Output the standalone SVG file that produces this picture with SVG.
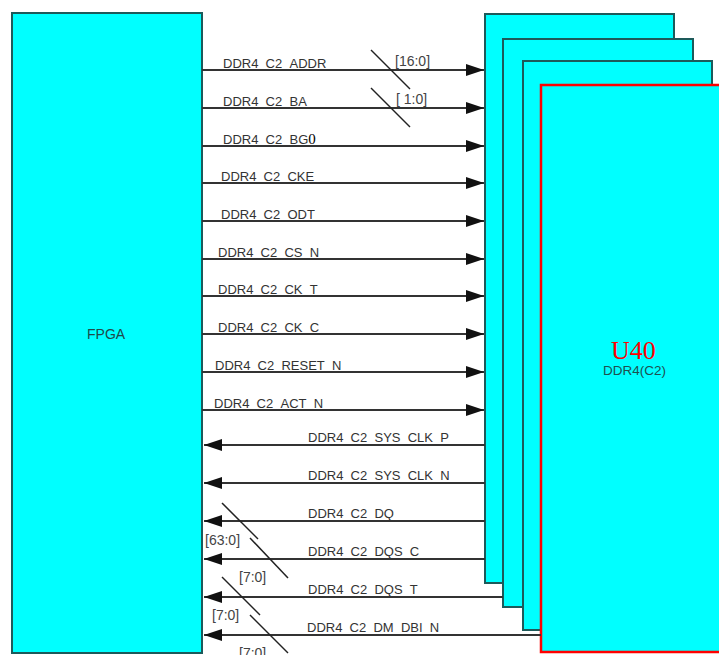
<svg xmlns="http://www.w3.org/2000/svg" width="719" height="655" viewBox="0 0 719 655">
<style>
.box{fill:#00ffff;stroke:#1d5a5a;stroke-width:2}
.red{fill:#00ffff;stroke:#ff0000;stroke-width:2.5}
.sig{stroke:#333;stroke-width:2;fill:none}
.sl{stroke:#222;stroke-width:1.5;fill:none}
.lbl{font-family:"Liberation Sans",Arial,sans-serif;font-size:13px;fill:#333}
.bus{font-family:"Liberation Sans",Arial,sans-serif;font-size:14px;fill:#444}
</style>
<defs>
<marker id="ah" markerUnits="userSpaceOnUse" markerWidth="19" markerHeight="13" refX="18" refY="6" orient="auto">
<path d="M0,0 L18,6 L0,12 z" fill="#111"/>
</marker>
</defs>
<rect width="719" height="655" fill="#fff"/>
<g id="FPGA">
<rect class="box" x="12" y="13" width="190" height="640"/>
<text x="87" y="339" style="font-family:'Liberation Sans',Arial,sans-serif;font-size:14px;fill:#1f4a4a">FPGA</text>
</g>
<g id="U40">
<rect class="box" x="485" y="14" width="189" height="569"/>
<rect class="box" x="503" y="39" width="190" height="568"/>
<rect class="box" x="523" y="61" width="189" height="569"/>
<rect class="red" x="541" y="85" width="200" height="567"/>
<text x="611" y="359" style="font-family:'Liberation Serif','Times New Roman',serif;font-size:26px;fill:#ff0000">U40</text>
<text x="603" y="375" style="font-family:'Liberation Sans',Arial,sans-serif;font-size:13.5px;fill:#1f5050">DDR4(C2)</text>
</g>
<g id="connectors">
<line class="sig" x1="202" y1="70" x2="484" y2="70" marker-end="url(#ah)"/>
<line class="sig" x1="202" y1="108" x2="484" y2="108" marker-end="url(#ah)"/>
<line class="sig" x1="202" y1="146" x2="484" y2="146" marker-end="url(#ah)"/>
<line class="sig" x1="202" y1="183" x2="484" y2="183" marker-end="url(#ah)"/>
<line class="sig" x1="202" y1="221" x2="484" y2="221" marker-end="url(#ah)"/>
<line class="sig" x1="202" y1="259" x2="484" y2="259" marker-end="url(#ah)"/>
<line class="sig" x1="202" y1="296" x2="484" y2="296" marker-end="url(#ah)"/>
<line class="sig" x1="202" y1="334" x2="484" y2="334" marker-end="url(#ah)"/>
<line class="sig" x1="202" y1="372" x2="484" y2="372" marker-end="url(#ah)"/>
<line class="sig" x1="202" y1="410" x2="484" y2="410" marker-end="url(#ah)"/>
<line class="sig" x1="485" y1="445" x2="204" y2="445" marker-end="url(#ah)"/>
<line class="sig" x1="485" y1="483" x2="204" y2="483" marker-end="url(#ah)"/>
<line class="sig" x1="485" y1="521" x2="204" y2="521" marker-end="url(#ah)"/>
<line class="sig" x1="485" y1="559" x2="204" y2="559" marker-end="url(#ah)"/>
<line class="sig" x1="503" y1="597" x2="204" y2="597" marker-end="url(#ah)"/>
<line class="sig" x1="541" y1="635" x2="204" y2="635" marker-end="url(#ah)"/>
<line class="sl" x1="371" y1="50" x2="410" y2="89"/>
<line class="sl" x1="371" y1="88" x2="410" y2="127"/>
<line class="sl" x1="222" y1="503" x2="258" y2="539"/>
<line class="sl" x1="250" y1="538" x2="288" y2="578"/>
<line class="sl" x1="222" y1="577" x2="260" y2="615"/>
<line class="sl" x1="250" y1="615" x2="288" y2="653"/>
</g>
<g id="labels">
<text class="lbl" x="223" y="68">DDR4_C2_ADDR</text>
<text class="lbl" x="223" y="106">DDR4_C2_BA</text>
<text class="lbl" x="223" y="144">DDR4_C2_BG<tspan style="font-family:'Liberation Serif','Times New Roman',serif;font-size:15px;fill:#000">0</tspan></text>
<text class="lbl" x="221" y="181">DDR4_C2_CKE</text>
<text class="lbl" x="221" y="219">DDR4_C2_ODT</text>
<text class="lbl" x="218" y="257">DDR4_C2_CS_N</text>
<text class="lbl" x="218" y="294">DDR4_C2_CK_T</text>
<text class="lbl" x="218" y="332">DDR4_C2_CK_C</text>
<text class="lbl" x="215" y="370">DDR4_C2_RESET_N</text>
<text class="lbl" x="214" y="408">DDR4_C2_ACT_N</text>
<text class="lbl" x="308" y="442">DDR4_C2_SYS_CLK_P</text>
<text class="lbl" x="308" y="480">DDR4_C2_SYS_CLK_N</text>
<text class="lbl" x="308" y="518">DDR4_C2_DQ</text>
<text class="lbl" x="308" y="556">DDR4_C2_DQS_C</text>
<text class="lbl" x="308" y="594">DDR4_C2_DQS_T</text>
<text class="lbl" x="307" y="632">DDR4_C2_DM_DBI_N</text>
<text class="bus" x="395" y="66">[16:0]</text>
<text class="bus" x="396" y="104">[ 1:0]</text>
<text class="bus" x="205" y="545">[63:0]</text>
<text class="bus" x="239" y="582">[7:0]</text>
<text class="bus" x="212" y="620">[7:0]</text>
<text class="bus" x="239" y="658">[7:0]</text>
</g>
</svg>
